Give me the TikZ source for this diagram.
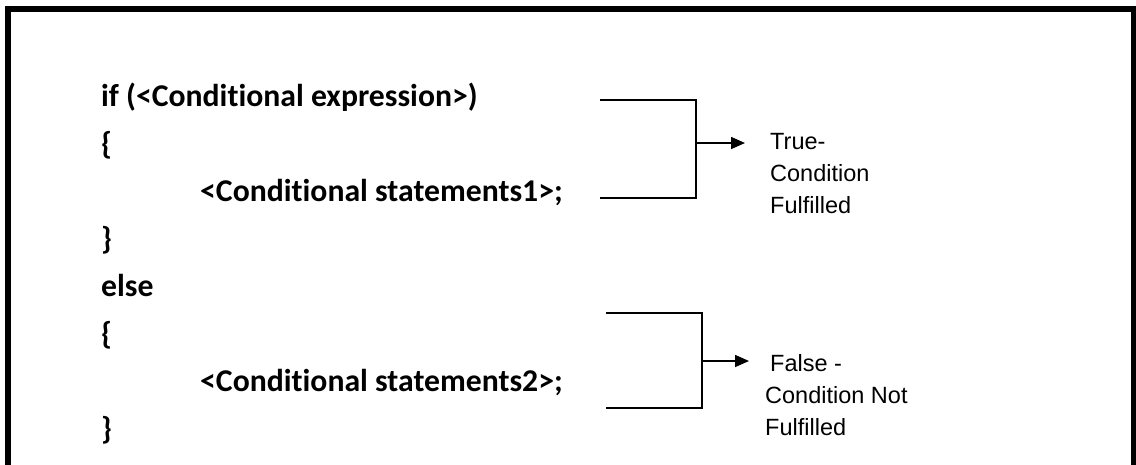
\documentclass[tikz,border=0pt]{standalone}
\usepackage{fontspec}
\setmainfont{Carlito}[Ligatures=NoCommon]
\newfontfamily\labelfont{Liberation Sans}
\usetikzlibrary{arrows.meta}
\begin{document}
\begin{tikzpicture}[x=1pt,y=-1pt,
  codeline/.style={anchor=base west,inner sep=0pt,font=\fontsize{31.7}{34}\selectfont\bfseries},
  sidenote/.style={anchor=west,inner sep=0pt,align=left,font=\labelfont\fontsize{23.5}{32}\selectfont},
  bracket/.style={line width=1.6pt},
  pointer/.style={line width=1.6pt,-{Triangle[length=14pt,width=12pt]}}]
\useasboundingbox (0,0) rectangle (1136,464);
% outer frame (bottom edge lies below the page)
\draw[line width=6pt] (8,490) -- (8,9) -- (1134,9) -- (1134,490);

% code listing
\node[codeline] (l1) at (101,106) {if (<Conditional expression>)};
\node[codeline] (l2) at (101,154) {\{};
\node[codeline] (l3) at (200,201) {<Conditional statements1>;};
\node[codeline] (l4) at (101,249) {\}};
\node[codeline] (l5) at (101,296) {else};
\node[codeline] (l6) at (101,344) {\{};
\node[codeline] (l7) at (200,391) {<Conditional statements2>;};
\node[codeline] (l8) at (101,439) {\}};

% true branch bracket
\coordinate (ta) at (600,100);
\coordinate (tb) at (696,100);
\coordinate (tc) at (696,198);
\coordinate (td) at (600,198);
\coordinate (tm) at (696,143);
\coordinate (tt) at (745,143);
\draw[bracket] (ta) -- (tb) -- (tc) -- (td);
\draw[pointer] (tm) -- (tt);
\node[sidenote] (truenote) at (770,174) {True-\\Condition\\Fulfilled};

% false branch bracket
\coordinate (fa) at (606,313);
\coordinate (fb) at (702,313);
\coordinate (fc) at (702,408);
\coordinate (fd) at (606,408);
\coordinate (fm) at (702,361);
\coordinate (ft) at (749,361);
\draw[bracket] (fa) -- (fb) -- (fc) -- (fd);
\draw[pointer] (fm) -- (ft);
\node[sidenote] (falsenote) at (765,395) {\hspace{5pt}False -\\Condition Not\\Fulfilled};
\end{tikzpicture}
\end{document}
